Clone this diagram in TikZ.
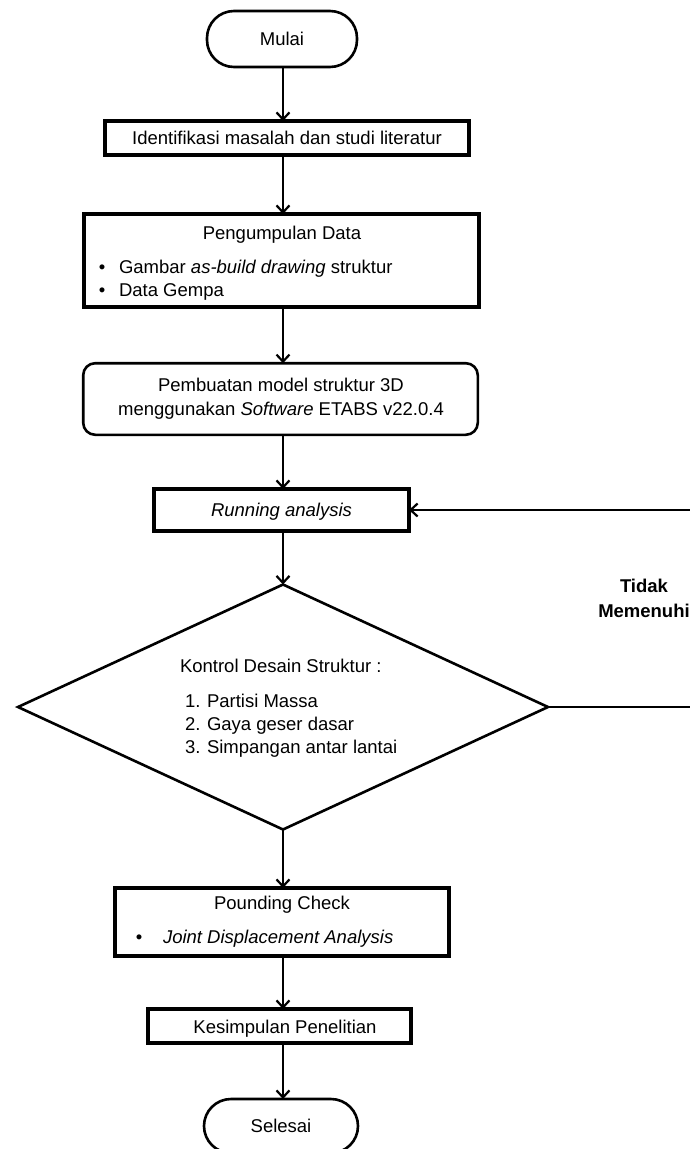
\documentclass[tikz,border=0pt]{standalone}
\usepackage{fontspec}
\setmainfont{Liberation Sans}
\usetikzlibrary{shapes.geometric,arrows.meta}
\begin{document}
\begin{tikzpicture}[x=1pt,y=-1pt,
  every node/.style={font=\fontsize{18.5}{22}\selectfont, inner sep=0pt, outer sep=0pt},
  txt/.style={text height=13.2pt, text depth=0pt},
  thickbox/.style={draw, rectangle, line width=4pt, txt},
  roundbox/.style={draw, rectangle, rounded corners=12pt, line width=2.6pt},
  term/.style={draw, rectangle, rounded corners=27pt, line width=2.6pt, txt},
  decision/.style={draw, diamond, line width=2.6pt},
  arr/.style={line width=2.2pt, -{Straight Barb[length=7pt,width=13pt]}},
  lbl/.style={txt, font=\fontsize{18.5}{22}\selectfont\bfseries}
]
\useasboundingbox (0,0) rectangle (689,1149);

\coordinate (spine) at (283,0);

% Start
\node[term, minimum width=150pt, minimum height=56pt] (start) at (282,39) {Mulai};

% Identifikasi
\node[thickbox, minimum width=364pt, minimum height=34pt] (iden) at (287,138) {Identifikasi masalah dan studi literatur};

% Pengumpulan data
\node[thickbox, minimum width=395pt, minimum height=93pt] (data) at (281.5,260.5) {};
\node[txt] (dataT) at (282,233) {Pengumpulan Data};
\node[txt] (b1) at (102,267) {•};
\node[txt, anchor=west] (b1T) at (119,267) {Gambar \textit{as-build drawing} struktur};
\node[txt] (b2) at (102,290) {•};
\node[txt, anchor=west] (b2T) at (119,290) {Data Gempa};

% Model
\node[roundbox, minimum width=394.6pt, minimum height=71.6pt] (model) at (280.5,399) {};
\node[txt] (m1) at (281,385) {Pembuatan model struktur 3D};
\node[txt] (m2) at (281,409) {menggunakan \textit{Software} ETABS v22.0.4};

% Running
\node[thickbox, minimum width=255pt, minimum height=42pt] (run) at (281.5,510) {\itshape Running analysis};

% Decision
\node[decision, minimum width=530pt, minimum height=245pt] (dia) at (283,707) {};
\node[txt, anchor=west] (kT) at (180,666) {Kontrol Desain Struktur :};
\node[txt, anchor=west] (k1n) at (185,701) {1.};
\node[txt, anchor=west] (k1) at (207,701) {Partisi Massa};
\node[txt, anchor=west] (k2n) at (185,724) {2.};
\node[txt, anchor=west] (k2) at (207,724) {Gaya geser dasar};
\node[txt, anchor=west] (k3n) at (185,747) {3.};
\node[txt, anchor=west] (k3) at (207,747) {Simpangan antar lantai};

\node[lbl] (tidak) at (644,586) {Tidak};
\node[lbl] (memenuhi) at (644,611) {Memenuhi};

% Pounding
\node[thickbox, minimum width=334pt, minimum height=68pt] (pound) at (282,922) {};
\node[txt] (pT) at (282,903) {Pounding Check};
\node[txt] (pb) at (139,937) {•};
\node[txt, anchor=west] (pbT) at (163,937) {\itshape Joint Displacement Analysis};

% Kesimpulan
\node[thickbox, minimum width=263pt, minimum height=34pt] (kes) at (279.5,1026) {};
\node[txt] (kesT) at (285,1027) {Kesimpulan Penelitian};

% End
\node[term, minimum width=154pt, minimum height=54pt] (stop) at (281,1126) {Selesai};

% Connectors
\draw[arr] (spine |- start.south) -- (spine |- iden.north);
\draw[arr] (spine |- iden.south) -- (spine |- data.north);
\draw[arr] (spine |- data.south) -- (spine |- model.north);
\draw[arr] (spine |- model.south) -- (spine |- run.north);
\draw[arr] (spine |- run.south) -- (dia.north);
\draw[arr] (dia.south) -- (spine |- pound.north);
\draw[arr] (spine |- pound.south) -- (spine |- kes.north);
\draw[arr] (spine |- kes.south) -- (spine |- stop.north);
\draw[arr] (dia.east) -- ++(146,0) |- (run.east);
\end{tikzpicture}
\end{document}
